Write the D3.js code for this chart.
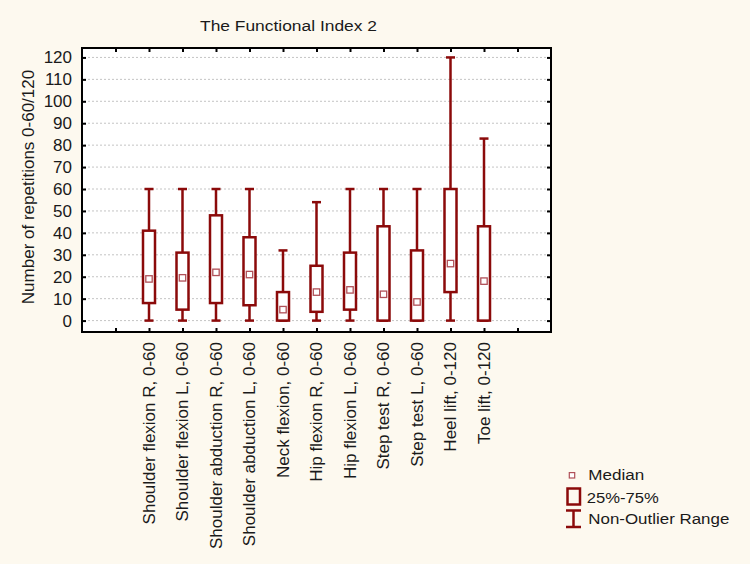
<!DOCTYPE html>
<html>
<head>
<meta charset="utf-8">
<script src="https://cdn.jsdelivr.net/npm/d3@7"></script>
<style>
  html, body { margin: 0; padding: 0; background: #fdf9ef; }
  svg { display: block; font-family: "Liberation Sans", Arial, sans-serif; }
</style>
</head>
<body>
<svg id="chart" width="750" height="564"></svg>
<script>
const categories = [
  "Shoulder flexion R, 0-60", "Shoulder flexion L, 0-60",
  "Shoulder abduction R, 0-60", "Shoulder abduction L, 0-60",
  "Neck flexion, 0-60", "Hip flexion R, 0-60", "Hip flexion L, 0-60",
  "Step test R, 0-60", "Step test L, 0-60", "Heel lift, 0-120", "Toe lift, 0-120"
];
const medians = [19, 19.5, 22, 21, 5, 13, 14, 12, 8.5, 26, 18];
const q1 =      [8, 5, 8, 7, 0, 4, 5, 0, 0, 13, 0];
const q3 =      [41, 31, 48, 38, 13, 25, 31, 43, 32, 60, 43];
const whiskerMin = [0, 0, 0, 0, 0, 0, 0, 0, 0, 0, 0];
const whiskerMax = [60, 60, 60, 60, 32, 54, 60, 60, 60, 120, 83];
const yTicks = [0, 10, 20, 30, 40, 50, 60, 70, 80, 90, 100, 110, 120];

(function () {
const data = categories.map((c, i) => ({
  name: c, i, med: medians[i], q1: q1[i], q3: q3[i], lo: whiskerMin[i], hi: whiskerMax[i]
}));

const svg = d3.select("#chart");
const pL = 82, pR = 551, pT = 48, pB = 332;
const red = "#8b0a0a";
const medColor = "#b05058";

const x = d3.scaleLinear().domain([-2, 12]).range([pL, pR]);
const y = d3.scaleLinear().domain([-5.2, 124.3]).range([pB, pT]);

// plot background
svg.append("rect").attr("x", pL).attr("y", pT)
  .attr("width", pR - pL).attr("height", pB - pT).attr("fill", "#ffffff");

// grid
svg.append("g").selectAll("line").data(yTicks).join("line")
  .attr("x1", pL + 2).attr("x2", pR - 2)
  .attr("y1", d => y(d)).attr("y2", d => y(d))
  .attr("stroke", "#c4c4c4").attr("stroke-width", 1).attr("stroke-dasharray", "2,2");

// axes
const xTickVals = d3.range(-1, 12);
const axL = svg.append("g").attr("transform", `translate(${pL},0)`)
  .call(d3.axisLeft(y).tickValues(yTicks).tickSizeInner(-4).tickSizeOuter(0).tickPadding(10));
axL.select(".domain").remove();
axL.selectAll("line").attr("stroke", "#000").attr("stroke-width", 2);
axL.selectAll("text").attr("font-size", "17px").attr("fill", "#1a1a1a")
  .attr("font-family", "Liberation Sans, Arial, sans-serif");

const axR = svg.append("g").attr("transform", `translate(${pR},0)`)
  .call(d3.axisRight(y).tickValues(yTicks).tickSizeInner(-4).tickSizeOuter(0).tickFormat(""));
axR.select(".domain").remove();
axR.selectAll("line").attr("stroke", "#000").attr("stroke-width", 2);

const axT = svg.append("g").attr("transform", `translate(0,${pT})`)
  .call(d3.axisTop(x).tickValues(xTickVals).tickSizeInner(-4).tickSizeOuter(0).tickFormat(""));
axT.select(".domain").remove();
axT.selectAll("line").attr("stroke", "#000").attr("stroke-width", 2);

const axB = svg.append("g").attr("transform", `translate(0,${pB})`)
  .call(d3.axisBottom(x).tickValues(xTickVals).tickSizeInner(-4).tickSizeOuter(0).tickFormat(""));
axB.select(".domain").remove();
axB.selectAll("line").attr("stroke", "#000").attr("stroke-width", 2);

// frame
svg.append("rect").attr("x", pL).attr("y", pT)
  .attr("width", pR - pL).attr("height", pB - pT)
  .attr("fill", "none").attr("stroke", "#000").attr("stroke-width", 2);

// boxes
const boxW = 12, capW = 9;
const g = svg.append("g").selectAll("g").data(data).join("g");
g.append("line")
  .attr("x1", d => x(d.i)).attr("x2", d => x(d.i))
  .attr("y1", d => y(d.hi)).attr("y2", d => y(d.lo))
  .attr("stroke", red).attr("stroke-width", 2.5);
g.append("line")
  .attr("x1", d => x(d.i) - capW / 2).attr("x2", d => x(d.i) + capW / 2)
  .attr("y1", d => y(d.hi)).attr("y2", d => y(d.hi))
  .attr("stroke", red).attr("stroke-width", 2.5);
g.append("line")
  .attr("x1", d => x(d.i) - capW / 2).attr("x2", d => x(d.i) + capW / 2)
  .attr("y1", d => y(d.lo)).attr("y2", d => y(d.lo))
  .attr("stroke", red).attr("stroke-width", 2.5);
g.append("rect")
  .attr("x", d => x(d.i) - boxW / 2).attr("width", boxW)
  .attr("y", d => y(d.q3)).attr("height", d => y(d.q1) - y(d.q3))
  .attr("fill", "#ffffff").attr("stroke", red).attr("stroke-width", 2.5);
g.append("rect")
  .attr("x", d => x(d.i) - 3.2).attr("y", d => y(d.med) - 3.2)
  .attr("width", 6.4).attr("height", 6.4)
  .attr("fill", "#ffffff").attr("stroke", medColor).attr("stroke-width", 1.3);

// x labels
svg.append("g").selectAll("text").data(data).join("text")
  .attr("transform", d => `translate(${x(d.i)},${pB + 10}) rotate(-90)`)
  .attr("text-anchor", "end").attr("dy", "0.35em")
  .attr("font-size", "17px").attr("fill", "#1a1a1a")
  .text(d => d.name);

// y title
svg.append("text")
  .attr("transform", "translate(28,187) rotate(-90)")
  .attr("text-anchor", "middle").attr("dy", "0.35em")
  .attr("font-size", "17px").attr("fill", "#1a1a1a")
  .text("Number of repetitions 0-60/120");

// title
svg.append("text")
  .attr("x", 200).attr("y", 31)
  .attr("font-size", "15.5px").attr("fill", "#1a1a1a")
  .attr("textLength", 177).attr("lengthAdjust", "spacingAndGlyphs")
  .text("The Functional Index 2");

// legend
const lg = svg.append("g");
lg.append("rect").attr("x", 569.3).attr("y", 472.6).attr("width", 5.4).attr("height", 5.4)
  .attr("fill", "#fff").attr("stroke", medColor).attr("stroke-width", 1.2);
lg.append("rect").attr("x", 567.5).attr("y", 488.5).attr("width", 12.5).attr("height", 16)
  .attr("fill", "none").attr("stroke", red).attr("stroke-width", 2.5);
lg.append("line").attr("x1", 573.5).attr("x2", 573.5).attr("y1", 510).attr("y2", 527)
  .attr("stroke", red).attr("stroke-width", 2.5);
lg.append("line").attr("x1", 566).attr("x2", 581).attr("y1", 510.5).attr("y2", 510.5)
  .attr("stroke", red).attr("stroke-width", 2.5);
lg.append("line").attr("x1", 566).attr("x2", 581).attr("y1", 527).attr("y2", 527)
  .attr("stroke", red).attr("stroke-width", 2.5);
const legendItems = [
  { t: "Median", x: 588.3, y: 480, w: 56 },
  { t: "25%-75%", x: 586.7, y: 502.7, w: 72 },
  { t: "Non-Outlier Range", x: 588.3, y: 524, w: 141 }
];
lg.selectAll("text.lt").data(legendItems).join("text").attr("class", "lt")
  .attr("x", d => d.x).attr("y", d => d.y)
  .attr("font-size", "15.5px").attr("fill", "#1a1a1a")
  .attr("textLength", d => d.w).attr("lengthAdjust", "spacingAndGlyphs")
  .text(d => d.t);
})();
</script>
</body>
</html>
